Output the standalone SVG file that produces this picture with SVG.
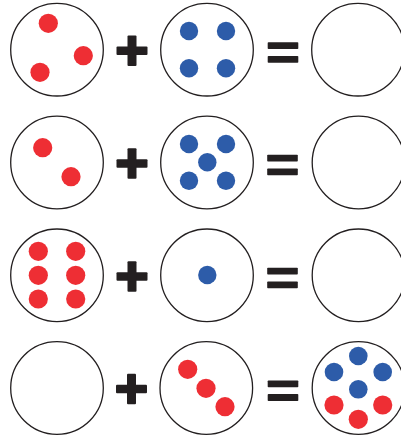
<svg xmlns="http://www.w3.org/2000/svg" width="401" height="436" viewBox="0 0 401 436">
<style>
.ring{fill:#fff;stroke:#231f20;stroke-width:1.3}
.r{fill:#ee2e34}
.b{fill:#2d5ca9}
.op{fill:#231f20}
</style>
<defs>
<g id="plus"><rect x="-15.5" y="-4.2" width="31" height="8.4" rx="1"/><rect x="-4.5" y="-15.3" width="9" height="30.6" rx="1"/></g>
<g id="eq"><rect x="-15.3" y="-10.3" width="30.6" height="6.9" rx="0.8"/><rect x="-15.3" y="3.4" width="30.6" height="6.9" rx="0.8"/></g>
</defs>
<rect width="401" height="436" fill="#fff"/>
<!-- Row 1 -->
<g id="r1a"><circle class="ring" cx="57" cy="49.7" r="46.3"/><circle class="r" cx="48.3" cy="23.3" r="9.6"/><circle class="r" cx="83.3" cy="55.7" r="9.6"/><circle class="r" cx="40" cy="72.3" r="9.6"/></g>
<g id="r1plus" class="op"><use href="#plus" x="132" y="50.8"/></g>
<g id="r1b"><circle class="ring" cx="207" cy="49.7" r="46.3"/><circle class="b" cx="189" cy="31" r="9.2"/><circle class="b" cx="226" cy="31" r="9.2"/><circle class="b" cx="189" cy="68.3" r="9.2"/><circle class="b" cx="226" cy="68.3" r="9.2"/></g>
<g id="r1eq" class="op"><use href="#eq" x="283" y="52.5"/></g>
<g id="r1c"><circle class="ring" cx="358" cy="49.7" r="46.3"/></g>
<!-- Row 2 -->
<g id="r2a"><circle class="ring" cx="57" cy="162.5" r="46.3"/><circle class="r" cx="42.7" cy="147.7" r="9.6"/><circle class="r" cx="71" cy="176.7" r="9.6"/></g>
<g id="r2plus" class="op"><use href="#plus" x="132" y="163.5"/></g>
<g id="r2b"><circle class="ring" cx="207" cy="162.5" r="46.3"/><circle class="b" cx="189" cy="144" r="9.2"/><circle class="b" cx="226" cy="144" r="9.2"/><circle class="b" cx="207.3" cy="162.3" r="9.2"/><circle class="b" cx="189" cy="180.7" r="9.2"/><circle class="b" cx="226" cy="180.7" r="9.2"/></g>
<g id="r2eq" class="op"><use href="#eq" x="282.5" y="165"/></g>
<g id="r2c"><circle class="ring" cx="358.5" cy="162.5" r="46.3"/></g>
<!-- Row 3 -->
<g id="r3a"><circle class="ring" cx="57" cy="275.3" r="46.3"/><circle class="r" cx="38.3" cy="251.3" r="9.6"/><circle class="r" cx="75.7" cy="251.3" r="9.6"/><circle class="r" cx="38.3" cy="275.3" r="9.6"/><circle class="r" cx="75.7" cy="275.3" r="9.6"/><circle class="r" cx="38.3" cy="299" r="9.6"/><circle class="r" cx="75.7" cy="299" r="9.6"/></g>
<g id="r3plus" class="op"><use href="#plus" x="132" y="276.5"/></g>
<g id="r3b"><circle class="ring" cx="207" cy="275.3" r="46.3"/><circle class="b" cx="207.3" cy="275" r="9.2"/></g>
<g id="r3eq" class="op"><use href="#eq" x="282.5" y="278"/></g>
<g id="r3c"><circle class="ring" cx="358.5" cy="275.3" r="46.3"/></g>
<!-- Row 4 -->
<g id="r4a"><circle class="ring" cx="57" cy="388" r="46.3"/></g>
<g id="r4plus" class="op"><use href="#plus" x="131.5" y="389"/></g>
<g id="r4b"><circle class="ring" cx="206.3" cy="388" r="46.3"/><circle class="r" cx="187.7" cy="369.3" r="9.6"/><circle class="r" cx="206" cy="388.3" r="9.6"/><circle class="r" cx="225" cy="406.7" r="9.6"/></g>
<g id="r4eq" class="op"><use href="#eq" x="283" y="390.7"/></g>
<g id="r4c"><circle class="ring" cx="358.5" cy="388" r="46.3"/><circle class="b" cx="358.3" cy="356" r="9.3"/><circle class="b" cx="334" cy="372" r="9.3"/><circle class="b" cx="382.7" cy="372" r="9.3"/><circle class="b" cx="358.3" cy="389.3" r="9.3"/><circle class="r" cx="334" cy="405" r="9.6"/><circle class="r" cx="382.7" cy="405" r="9.6"/><circle class="r" cx="358.3" cy="419.3" r="9.6"/></g>
<g id="connectors"/>
</svg>
